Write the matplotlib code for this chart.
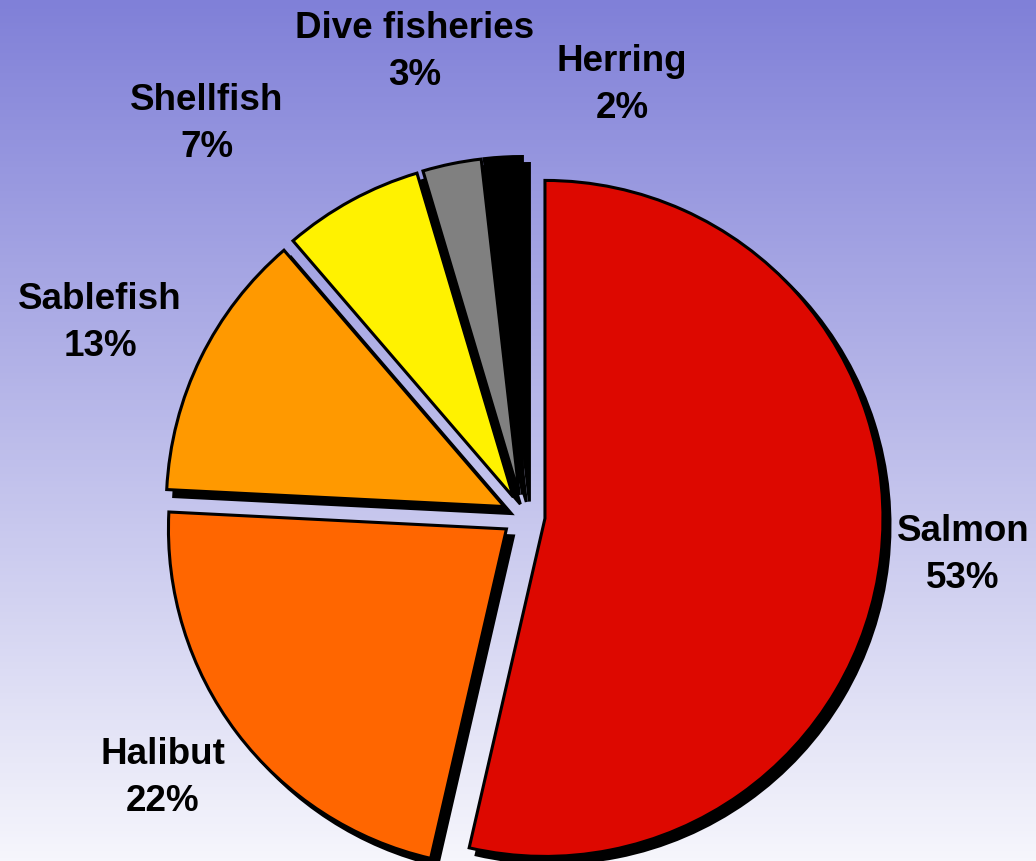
import numpy as np
import matplotlib
matplotlib.use("Agg")
import matplotlib.pyplot as plt

# data
names = ["Salmon", "Halibut", "Sablefish", "Shellfish", "Dive fisheries", "Herring"]
shares = [53.6, 22.2, 12.9, 6.7, 2.8, 1.8]
pct_text = ["53%", "22%", "13%", "7%", "3%", "2%"]  # as printed on the chart
colors = ["#DD0800", "#FF6600", "#FF9900", "#FFF200", "#808080", "#000000"]

# label placement (pixel coords, y from top)
label_pos = [(963, 555), (163, 778), (100, 323), (207, 124), (415, 52), (622, 85)]

W, H = 1036, 862
fig = plt.figure(figsize=(W / 100, H / 100), dpi=100)

# background gradient
bg = fig.add_axes([0, 0, 1, 1])
top = np.array([128, 128, 216]) / 255
bot = np.array([246, 246, 252]) / 255
t = np.linspace(0, 1, 256)[:, None]
grad = top[None, :] * (1 - t) + bot[None, :] * t
bg.imshow(grad[:, None, :], aspect="auto", extent=[0, 1, 0, 1])
bg.axis("off")

ax = fig.add_axes([0, 0, 1, 1])
ax.patch.set_alpha(0)

cx, cy = 523.6, H - 517
r = 338
expl = [21.5] * len(shares)

# shadow
ax.pie(shares, startangle=90, counterclock=False, explode=expl, radius=r,
       center=(cx + 7, cy - 7), colors=["black"] * len(shares), frame=True,
       wedgeprops=dict(edgecolor="black", linewidth=2.2))
ax.pie(shares, startangle=90, counterclock=False, explode=expl, radius=r,
       center=(cx, cy), colors=colors, frame=True,
       wedgeprops=dict(edgecolor="black", linewidth=2.2))

for name, p, (px, py) in zip(names, pct_text, label_pos):
    ax.text(px, H - py, f"{name}\n{p}", ha="center", va="center",
            fontsize=26.5, fontweight="bold", family="Liberation Sans",
            linespacing=1.45)

ax.set_xlim(0, W)
ax.set_ylim(0, H)
ax.set_aspect("equal")
ax.axis("off")

fig.savefig("out.png", dpi=100)
